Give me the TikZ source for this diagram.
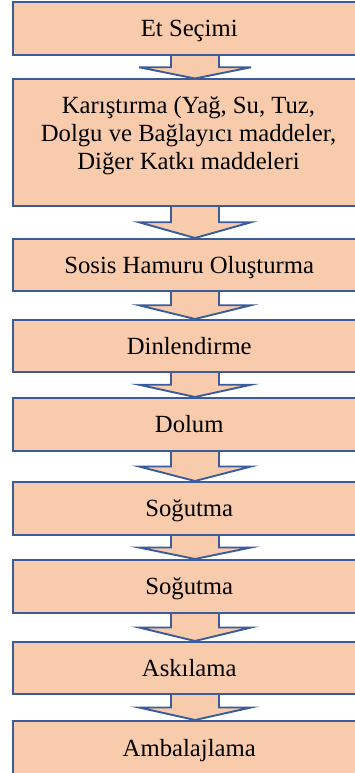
\documentclass[tikz,border=0pt]{standalone}
\usepackage{fontspec}
\setmainfont{Liberation Serif}
\usetikzlibrary{calc}
\definecolor{peach}{HTML}{F7CBAC}
\definecolor{edgeblue}{HTML}{3A5C9A}
\pgfdeclarelayer{bg}
\pgfsetlayers{bg,main}
\tikzset{
  stepfont/.style={font=\fontsize{24.7}{28}\selectfont},
  stepbox/.style={draw=edgeblue, fill=peach, line width=2pt, rectangle,
    minimum width=353.5pt, inner sep=0pt, text height=16.6pt, text depth=0pt,
    stepfont},
  flowarrow/.style={draw=edgeblue, fill=peach, line width=1.9pt, line join=miter},
}
% block arrow from the bottom of one box to the top of the next
\newcommand{\blockarrow}[2]{%
  \begin{pgfonlayer}{bg}
  \path let \p1=(#1.south), \p2=(#2.north), \n1={(\y1+\y2)/2} in
    [flowarrow] (171pt,\y1) -- (171pt,\n1) -- (139pt,\n1) -- (195pt,\y2)
      -- (251pt,\n1) -- (219pt,\n1) -- (219pt,\y1);
  \end{pgfonlayer}}
\begin{document}
\begin{tikzpicture}[x=1pt,y=-1pt]
\useasboundingbox (0,0) rectangle (355,773);
\node[stepbox, minimum height=53pt]   (b1) at (189.25,28.5)  {Et Seçimi};
\node[stepbox, minimum height=126pt]  (b2) at (189.25,142.5) {};
\node[stepfont, align=center, inner sep=0pt, anchor=north]
  (t2) at (188.5,96.5) {Karıştırma (Yağ, Su, Tuz,\\Dolgu ve Bağlayıcı maddeler,\\Diğer Katkı maddeleri};
\node[stepbox, minimum height=51.5pt] (b3) at (189.25,264.75) {Sosis Hamuru Oluşturma};
\node[stepbox, minimum height=51.5pt] (b4) at (189.25,345.75) {Dinlendirme};
\node[stepbox, minimum height=53pt]   (b5) at (189.25,424.5)  {Dolum};
\node[stepbox, minimum height=53pt]   (b6) at (189.25,508.5)  {Soğutma};
\node[stepbox, minimum height=53pt]   (b7) at (189.25,586.5)  {Soğutma};
\node[stepbox, minimum height=52pt]   (b8) at (189.25,668)    {Askılama};
\node[stepbox, minimum height=55pt]   (b9) at (189.25,748.5)  {Ambalajlama};
\blockarrow{b1}{b2}
\blockarrow{b2}{b3}
\blockarrow{b3}{b4}
\blockarrow{b4}{b5}
\blockarrow{b5}{b6}
\blockarrow{b6}{b7}
\blockarrow{b7}{b8}
\blockarrow{b8}{b9}
\end{tikzpicture}
\end{document}
